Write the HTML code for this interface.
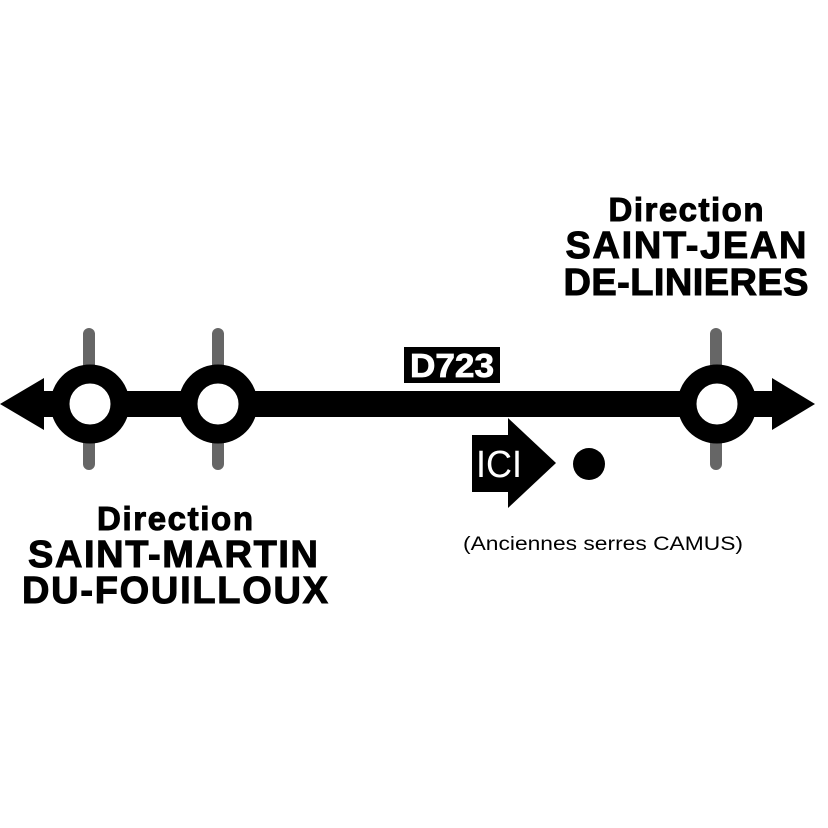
<!DOCTYPE html>
<html><head><meta charset="utf-8"><style>html,body{margin:0;padding:0;background:#fff;}svg{display:block}</style></head>
<body>
<svg width="828" height="828" viewBox="0 0 828 828" xmlns="http://www.w3.org/2000/svg">
<rect width="828" height="828" fill="#fff"/>
<g stroke="#666" stroke-width="12" stroke-linecap="round">
<line x1="89" y1="334" x2="89" y2="464"/>
<line x1="218" y1="334" x2="218" y2="464"/>
<line x1="716" y1="334" x2="716" y2="464"/>
</g>
<rect x="40" y="391" width="740" height="26" fill="#000"/>
<polygon points="0,404 44,378 44,430" fill="#000"/>
<polygon points="815,404 772,378 772,430" fill="#000"/>
<g fill="#fff" stroke="#000" stroke-width="19">
<circle cx="90" cy="404" r="30"/>
<circle cx="218" cy="404" r="30"/>
<circle cx="717" cy="404" r="30"/>
</g>
<rect x="404" y="347" width="96" height="36" fill="#000"/>
<text x="452" y="377" text-anchor="middle" font-family="Liberation Sans, sans-serif" font-weight="bold" font-size="33" fill="#fff" stroke="#fff" stroke-width="0.8" textLength="84" lengthAdjust="spacingAndGlyphs">D723</text>
<rect x="472" y="435" width="38" height="57" fill="#000"/>
<polygon points="508,418 556,463 508,508" fill="#000"/>
<text x="499" y="477" text-anchor="middle" font-family="Liberation Sans, sans-serif" font-size="38" fill="#fff" textLength="46" lengthAdjust="spacingAndGlyphs">ICI</text>
<circle cx="589" cy="464" r="16" fill="#000"/>
<text x="603" y="550" text-anchor="middle" font-family="Liberation Sans, sans-serif" font-size="19" fill="#000" textLength="280" lengthAdjust="spacingAndGlyphs">(Anciennes serres CAMUS)</text>
<g font-family="Liberation Sans, sans-serif" font-weight="bold" fill="#000" stroke="#000" stroke-width="1" text-anchor="middle" lengthAdjust="spacingAndGlyphs">
<text x="175" y="530" font-size="33" textLength="156">Direction</text>
<text x="173" y="567" font-size="38" textLength="290">SAINT-MARTIN</text>
<text x="175" y="603" font-size="38" textLength="306">DU-FOUILLOUX</text>
<text x="686" y="221" font-size="33" textLength="155">Direction</text>
<text x="686" y="258" font-size="38" textLength="241">SAINT-JEAN</text>
<text x="686" y="295" font-size="38" textLength="245">DE-LINIERES</text>
</g>
</svg>
</body></html>
